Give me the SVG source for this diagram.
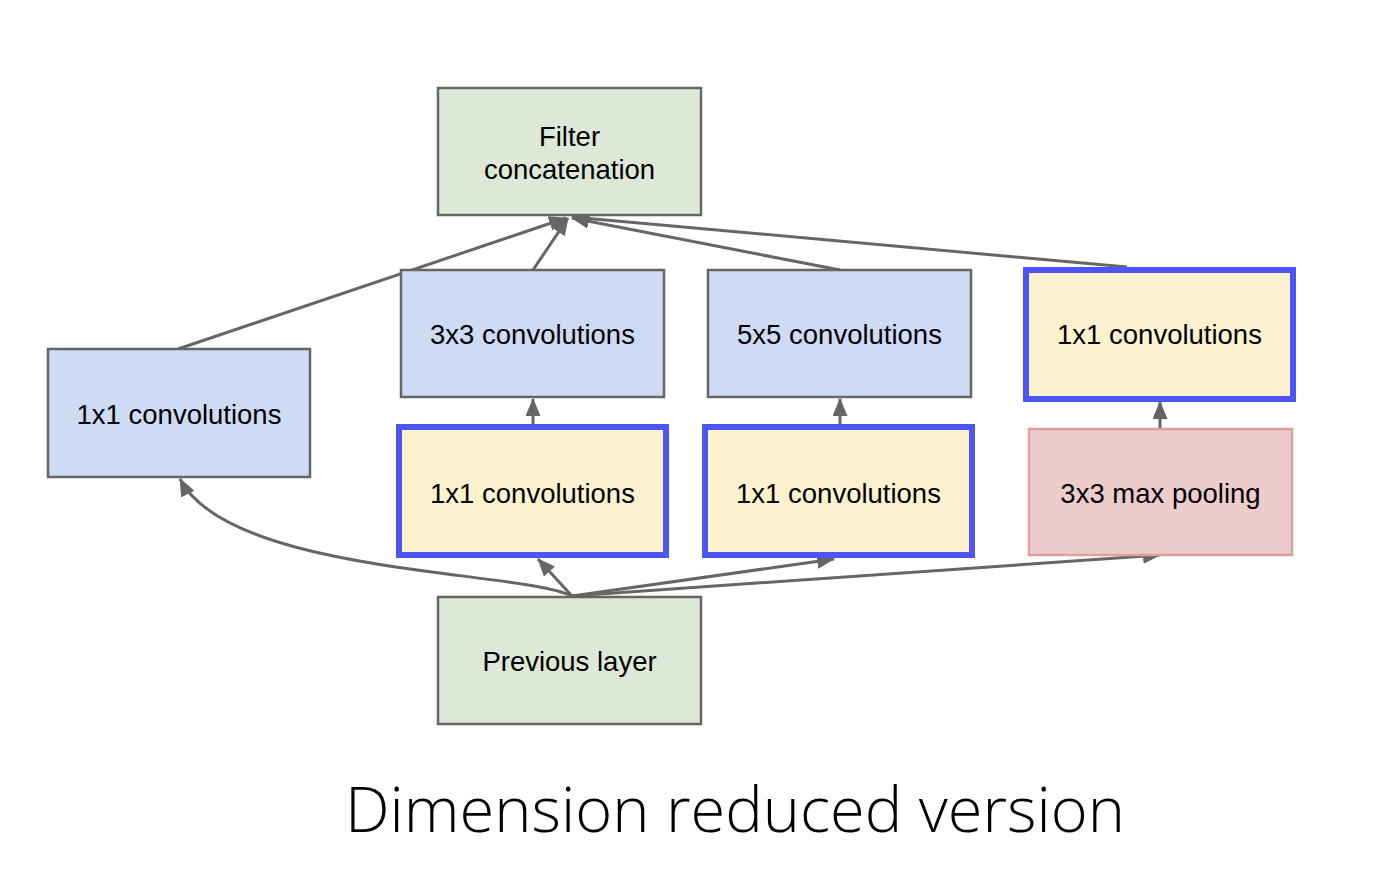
<svg xmlns="http://www.w3.org/2000/svg" width="1376" height="890" viewBox="0 0 1376 890">
<style>
.box{stroke:#666666;stroke-width:2.5}
.green{fill:#dde8d6}
.blue{fill:#cddbf5}
.yellow{fill:#fdf1d0;stroke:#4d55f2;stroke-width:6}
.red{fill:#edcccc;stroke:#e0a0a0;stroke-width:2.5}
.lbl{font-family:"Liberation Sans",Arial,sans-serif;font-size:27.5px;fill:#000;text-anchor:middle}
.conn{fill:none;stroke:#666666;stroke-width:3}
.title{font-family:"Open Sans","Noto Sans",sans-serif;font-weight:300;font-size:63px;fill:#000;text-anchor:middle}
</style>
<defs>
<marker id="ah" markerUnits="userSpaceOnUse" markerWidth="18" markerHeight="15" refX="17" refY="7.5" orient="auto">
<path d="M0,0 L18,7.5 L0,15 Z" fill="#666666"/>
</marker>
</defs>
<rect width="1376" height="890" fill="#ffffff"/>
<g id="connectors">
<path class="conn" d="M178,349 L566,218" marker-end="url(#ah)"/>
<path class="conn" d="M533,270 L568,218" marker-end="url(#ah)"/>
<path class="conn" d="M840,270 L572,218" marker-end="url(#ah)"/>
<path class="conn" d="M1127,267 L572,217" marker-end="url(#ah)"/>
<path class="conn" d="M533,426 L533,399" marker-end="url(#ah)"/>
<path class="conn" d="M840,426 L840,399" marker-end="url(#ah)"/>
<path class="conn" d="M1160,429 L1160,402" marker-end="url(#ah)"/>
<path class="conn" d="M572,596 C520,570 230,575 180,479" marker-end="url(#ah)"/>
<path class="conn" d="M572,596 L538,559" marker-end="url(#ah)"/>
<path class="conn" d="M572,596 L834,559" marker-end="url(#ah)"/>
<path class="conn" d="M572,596 L1160,555" marker-end="url(#ah)"/>
</g>
<g id="filter-concat">
<rect class="box green" x="438" y="88" width="263" height="127"/>
<text class="lbl" x="569.5" y="146">Filter</text>
<text class="lbl" x="569.5" y="179">concatenation</text>
</g>
<g id="conv3x3">
<rect class="box blue" x="401" y="270" width="263" height="127"/>
<text class="lbl" x="532.5" y="344">3x3 convolutions</text>
</g>
<g id="conv5x5">
<rect class="box blue" x="708" y="270" width="263" height="127"/>
<text class="lbl" x="839.5" y="344">5x5 convolutions</text>
</g>
<g id="conv1x1-pool">
<rect class="yellow" x="1026" y="270" width="267" height="129"/>
<text class="lbl" x="1159.5" y="344">1x1 convolutions</text>
</g>
<g id="conv1x1-left">
<rect class="box blue" x="48" y="349" width="262" height="128"/>
<text class="lbl" x="179" y="424">1x1 convolutions</text>
</g>
<g id="conv1x1-a">
<rect class="yellow" x="399" y="427" width="267" height="128"/>
<text class="lbl" x="532.5" y="503">1x1 convolutions</text>
</g>
<g id="conv1x1-b">
<rect class="yellow" x="705" y="427" width="267" height="128"/>
<text class="lbl" x="838.5" y="503">1x1 convolutions</text>
</g>
<g id="maxpool">
<rect class="red" x="1029" y="429" width="263" height="126"/>
<text class="lbl" x="1160.5" y="503">3x3 max pooling</text>
</g>
<g id="previous-layer">
<rect class="box green" x="438" y="597" width="263" height="127"/>
<text class="lbl" x="569.5" y="671">Previous layer</text>
</g>
<text class="title" x="735" y="832" textLength="780" lengthAdjust="spacingAndGlyphs">Dimension reduced version</text>
</svg>
